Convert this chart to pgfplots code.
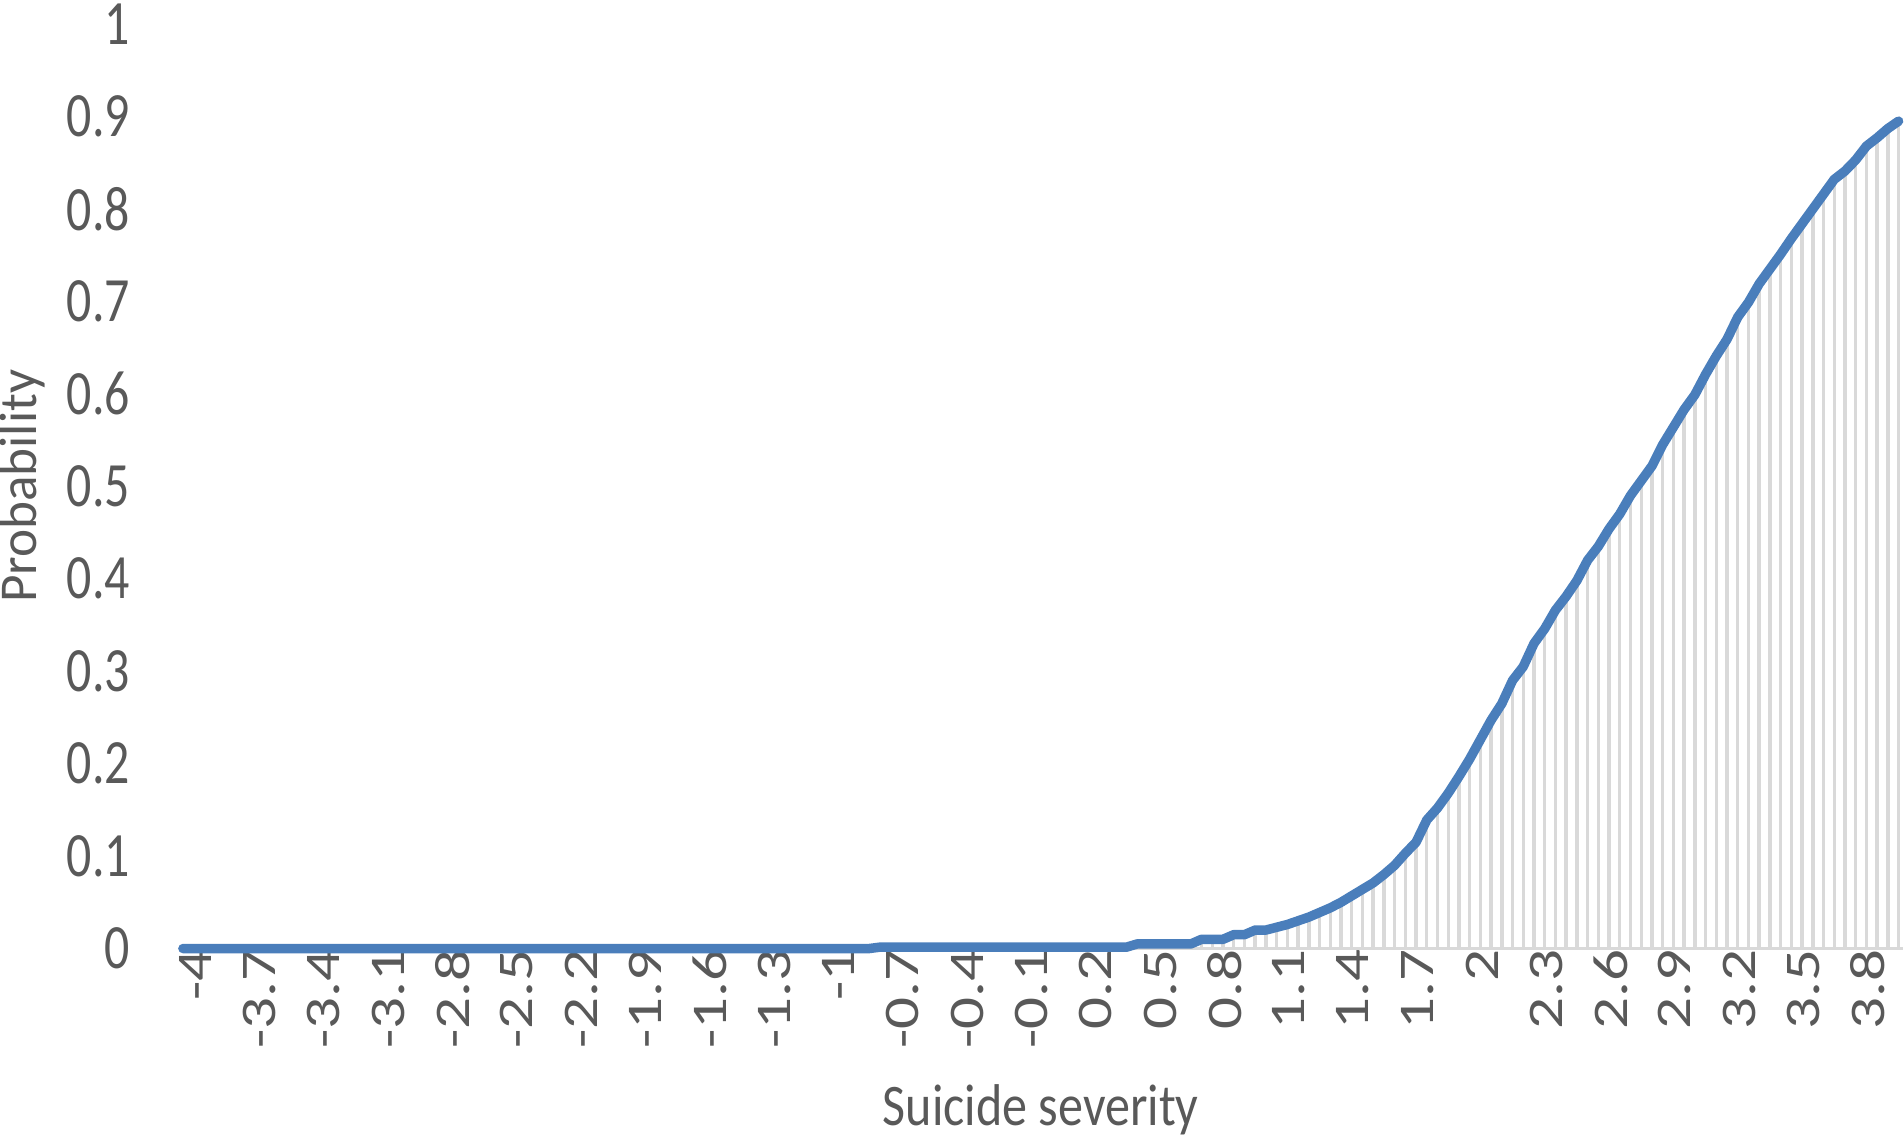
\documentclass[border={0pt 0pt 0pt 1pt}]{standalone}
\usepackage{pgfplots}
\usepackage{pgfplotstable}
\usepackage{fontspec}
\setmainfont{Carlito}
\pgfplotsset{compat=1.18}
\definecolor{lineblue}{HTML}{4A7EBB}
\definecolor{dropgray}{HTML}{D9D9D9}
\definecolor{txtgray}{HTML}{595959}
\newcommand\xl[1]{\scalebox{1}[0.79]{#1}}
\newcommand\yl[1]{\scalebox{0.79}[1]{#1}}
\pgfplotstableread{
x y
-4.00 0
-3.95 0
-3.90 0
-3.85 0
-3.80 0
-3.75 0
-3.70 0
-3.65 0
-3.60 0
-3.55 0
-3.50 0
-3.45 0
-3.40 0
-3.35 0
-3.30 0
-3.25 0
-3.20 0
-3.15 0
-3.10 0
-3.05 0
-3.00 0
-2.95 0
-2.90 0
-2.85 0
-2.80 0
-2.75 0
-2.70 0
-2.65 0
-2.60 0
-2.55 0
-2.50 0
-2.45 0
-2.40 0
-2.35 0
-2.30 0
-2.25 0
-2.20 0
-2.15 0
-2.10 0
-2.05 0
-2.00 0
-1.95 0
-1.90 0
-1.85 0
-1.80 0
-1.75 0
-1.70 0
-1.65 0
-1.60 0
-1.55 0
-1.50 0
-1.45 0
-1.40 0
-1.35 0
-1.30 0
-1.25 0
-1.20 0
-1.15 0
-1.10 0
-1.05 0
-1.00 0
-0.95 0
-0.90 0
-0.85 0
-0.80 0
-0.75 0.0015
-0.70 0.0015
-0.65 0.0015
-0.60 0.0015
-0.55 0.0015
-0.50 0.0015
-0.45 0.0015
-0.40 0.0015
-0.35 0.0015
-0.30 0.0015
-0.25 0.0015
-0.20 0.0015
-0.15 0.0015
-0.10 0.0015
-0.05 0.0015
0.00 0.0015
0.05 0.0015
0.10 0.0015
0.15 0.0015
0.20 0.0015
0.25 0.0015
0.30 0.0015
0.35 0.0015
0.40 0.0015
0.45 0.005
0.50 0.005
0.55 0.005
0.60 0.005
0.65 0.005
0.70 0.005
0.75 0.010
0.80 0.010
0.85 0.010
0.90 0.015
0.95 0.015
1.00 0.020
1.05 0.020
1.10 0.023
1.15 0.026
1.20 0.030
1.25 0.034
1.30 0.039
1.35 0.044
1.40 0.050
1.45 0.057
1.50 0.064
1.55 0.071
1.60 0.080
1.65 0.090
1.70 0.103
1.75 0.115
1.80 0.139
1.85 0.152
1.90 0.168
1.95 0.186
2.00 0.205
2.05 0.226
2.10 0.247
2.15 0.265
2.20 0.290
2.25 0.305
2.30 0.330
2.35 0.346
2.40 0.366
2.45 0.381
2.50 0.398
2.55 0.420
2.60 0.435
2.65 0.454
2.70 0.470
2.75 0.490
2.80 0.506
2.85 0.522
2.90 0.545
2.95 0.564
3.00 0.583
3.05 0.599
3.10 0.621
3.15 0.641
3.20 0.659
3.25 0.683
3.30 0.699
3.35 0.719
3.40 0.735
3.45 0.751
3.50 0.768
3.55 0.784
3.60 0.800
3.65 0.816
3.70 0.832
3.75 0.841
3.80 0.853
3.85 0.868
3.90 0.877
3.95 0.887
4.00 0.895
}\data
\begin{document}
\begin{tikzpicture}
\begin{axis}[
  scale only axis,
  width=453.6pt, height=243.2pt,
  xmin=-4.02, xmax=4.02, ymin=0, ymax=1,
  clip=false,
  axis lines*=left,
  y axis line style={draw=none},
  x axis line style={draw=dropgray, line width=0.6pt},
  major tick length=0pt,
  tick style={draw=none},
  xtick={-4,-3.7,-3.4,-3.1,-2.8,-2.5,-2.2,-1.9,-1.6,-1.3,-1,-0.7,-0.4,-0.1,0.2,0.5,0.8,1.1,1.4,1.7,2,2.3,2.6,2.9,3.2,3.5,3.8},
  xticklabels={\xl{-4},\xl{-3.7},\xl{-3.4},\xl{-3.1},\xl{-2.8},\xl{-2.5},\xl{-2.2},\xl{-1.9},\xl{-1.6},\xl{-1.3},\xl{-1},\xl{-0.7},\xl{-0.4},\xl{-0.1},\xl{0.2},\xl{0.5},\xl{0.8},\xl{1.1},\xl{1.4},\xl{1.7},\xl{2},\xl{2.3},\xl{2.6},\xl{2.9},\xl{3.2},\xl{3.5},\xl{3.8}},
  ytick={0,0.1,0.2,0.3,0.4,0.5,0.6,0.7,0.8,0.9,1},
  yticklabels={\yl{0},\yl{0.1},\yl{0.2},\yl{0.3},\yl{0.4},\yl{0.5},\yl{0.6},\yl{0.7},\yl{0.8},\yl{0.9},\yl{1}},
  xticklabel style={rotate=90, anchor=east, inner sep=0pt, yshift=-3.2pt, font=\fontsize{16.6}{19}\selectfont, text=txtgray},
  yticklabel style={anchor=east, inner sep=0pt, xshift=-12.6pt, font=\fontsize{16.6}{19}\selectfont, text=txtgray},
  xlabel={\scalebox{0.85}[1]{Suicide severity}},
  ylabel={Probability},
  xlabel style={at={(axis description cs:0.5,-0.1743)}, anchor=center, inner sep=0pt, font=\fontsize{15.5}{18}\selectfont, text=txtgray},
  ylabel style={at={(axis description cs:-0.0904,0.5)}, anchor=center, inner sep=0pt, font=\fontsize{14}{17}\selectfont, text=txtgray},
]
\addplot[ycomb, draw=dropgray, line width=0.9pt, mark=none] table[x=x,y=y] {\data};
\addplot[color=lineblue, line width=2.5pt, line join=round, line cap=round, mark=none] table[x=x,y=y] {\data};
\end{axis}
\end{tikzpicture}
\end{document}
